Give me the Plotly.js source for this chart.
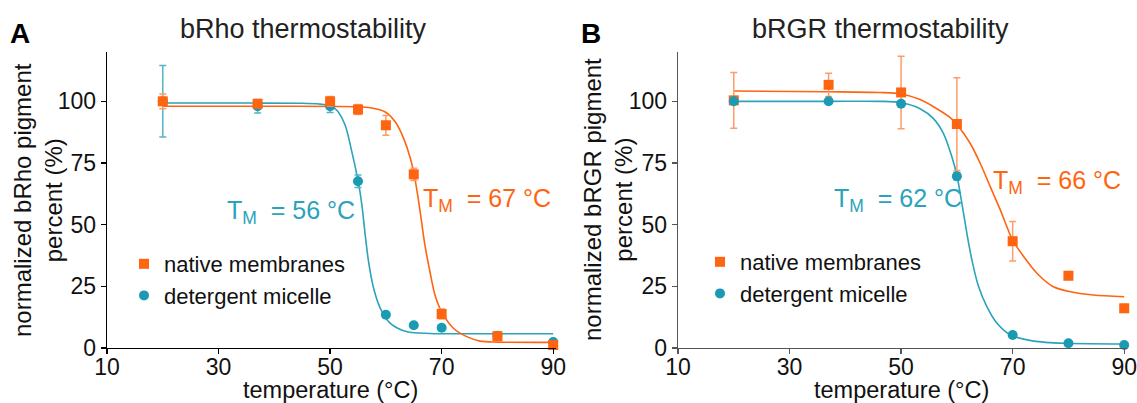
<!DOCTYPE html>
<html>
<head>
<meta charset="utf-8">
<script src="https://cdn.plot.ly/plotly-3.0.1.min.js"></script>
<style>html,body{margin:0;padding:0;background:#fff;}#chart{width:1137px;height:403px;}</style>
</head>
<body>
<div id="chart"></div>
<script>
// ---------- data ----------
const xTicks = [10, 30, 50, 70, 90];
const yTicks = [0, 25, 50, 75, 100];

// Panel A: bRho
const rhoTemp = [20, 37, 50, 55, 60, 65, 70, 80, 90];
const rhoNative = [100, 99, 100, 96.7, 90.3, 70.4, 13.8, 4.8, 1.2];
const rhoNativeErr = [3, 1.5, 2, 2, 4, 2.5, 2, 1, 1];
const rhoMicelle = [100, 98, 98, 67.6, 13.5, 9.2, 8.2, 5, 2.4];
const rhoMicelleErr = [14.5, 2.7, 2.5, 2.5, 0, 0, 0, 0, 0];

// fitted curves (temperature, percent)
const rhoNativeFitT = [20, 40, 55, 57.2, 59.9, 61.7, 63.2, 64.4, 65.2, 65.8, 66.4, 67, 67.9, 68.8, 70, 72.1, 74.5, 76.9, 80, 90];
const rhoNativeFitV = [98, 98, 97.8, 97.4, 95.7, 91.6, 84.9, 76.8, 68.7, 60.6, 51.1, 41.7, 30.9, 21.5, 14.7, 8, 4.6, 2.8, 2.4, 2.3];
const rhoMicelleFitT = [20, 35, 45, 48, 50, 51.2, 52.7, 53.9, 55.1, 55.7, 56.3, 56.9, 57.8, 59, 60.8, 63.8, 67.9, 80, 90];
const rhoMicelleFitV = [99.3, 99.3, 99.2, 98.9, 98.2, 96.4, 90.3, 79.5, 66.7, 57.9, 45.7, 34.9, 24.2, 16.1, 10, 6.6, 5.9, 5.8, 5.8];

// Panel B: bRGR
const rgrTemp = [20, 37, 50, 60, 70, 80, 90];
const rgrNative = [100.4, 106.7, 103.6, 90.8, 43.3, 29.3, 16.1];
const rgrNativeErr = [11.3, 4.7, 14.7, 18.8, 8, 1.5, 1.5];
const rgrMicelle = [100, 100, 99, 69.6, 5.3, 1.9, 1.2];
const rgrMicelleErr = [0.6, 0.6, 0.8, 1.5, 0.5, 0.4, 0.4];

const rgrNativeFitT = [20, 37, 46.2, 49.9, 53.4, 56.4, 58.8, 60.6, 62.4, 64.2, 66, 67.8, 70, 72, 74.4, 77.3, 80.3, 84.5, 90];
const rgrNativeFitV = [104.2, 103.9, 103.6, 103.1, 100.7, 97, 93.4, 88.9, 82.9, 74.8, 65.3, 55.9, 43.7, 37, 30.2, 24.8, 22.8, 21.5, 20.8];
const rgrMicelleFitT = [20, 37, 46.2, 49.9, 53.4, 55.8, 57.6, 59.1, 60, 60.9, 61.8, 62.7, 63.9, 65.4, 67.2, 69.6, 73.8, 79.7, 90];
const rgrMicelleFitV = [100, 100, 100, 99.5, 97, 93, 86.9, 77.5, 70, 58.6, 46.4, 35.6, 24.8, 16.7, 10, 5.3, 2.8, 1.9, 1.6];

const seriesNames = ['native membranes', 'detergent micelle'];
const panelTitles = ['bRho thermostability', 'bRGR thermostability'];
const panelLetters = ['A', 'B'];
const xTitle = 'temperature (°C)';
const yTitles = ['normalized bRho pigment<br>percent (%)', 'normalized bRGR pigment<br>percent (%)'];
const tmLabels = [['T<sub>M</sub>\u00a0 = 67 °C', 'T<sub>M</sub>\u00a0 = 56 °C'], ['T<sub>M</sub>\u00a0 = 66 °C', 'T<sub>M</sub>\u00a0 = 62 °C']];

// ---------- style ----------
const W = 1137, H = 403;
const px = v => v / W;
const py = v => (H - v) / H;
const FONT = 'Liberation Sans, Arial, sans-serif';
const ORANGE = '#ff6410';
const ORANGE_ERR = '#ff9c66';
const TEAL = '#1b9bb3';
const TEAL_ERR = '#55b5c8';
const TEAL_LINE = '#2aa3bb';

function fitTrace(x, y, color, xa, ya) {
  return {x, y, type: 'scatter', mode: 'lines', xaxis: xa, yaxis: ya,
    line: {color, width: 1.6, shape: 'spline', smoothing: 0.8}, showlegend: false, hoverinfo: 'skip'};
}
function dataTrace(x, y, err, name, color, errColor, symbol, xa, ya, leg) {
  return {x, y, type: 'scatter', mode: 'markers', name, xaxis: xa, yaxis: ya, legend: leg,
    cliponaxis: false,
    marker: {color, symbol, size: 10},
    error_y: {type: 'data', array: err, visible: true, color: errColor, thickness: 1.5, width: 3.5}};
}

const traces = [
  fitTrace(rhoMicelleFitT, rhoMicelleFitV, TEAL_LINE, 'x', 'y'),
  fitTrace(rhoNativeFitT, rhoNativeFitV, ORANGE, 'x', 'y'),
  dataTrace(rhoTemp, rhoMicelle, rhoMicelleErr, seriesNames[1], TEAL, TEAL_ERR, 'circle', 'x', 'y', 'legend'),
  dataTrace(rhoTemp, rhoNative, rhoNativeErr, seriesNames[0], ORANGE, ORANGE_ERR, 'square', 'x', 'y', 'legend'),
  fitTrace(rgrNativeFitT, rgrNativeFitV, ORANGE, 'x2', 'y2'),
  fitTrace(rgrMicelleFitT, rgrMicelleFitV, TEAL_LINE, 'x2', 'y2'),
  dataTrace(rgrTemp, rgrNative, rgrNativeErr, seriesNames[0], ORANGE, ORANGE_ERR, 'square', 'x2', 'y2', 'legend2'),
  dataTrace(rgrTemp, rgrMicelle, rgrMicelleErr, seriesNames[1], TEAL, TEAL_ERR, 'circle', 'x2', 'y2', 'legend2')
];

function xAxis(domain, lineColor) {
  return {domain, range: [10, 90.5], tickvals: xTicks, ticktext: xTicks.map(String),
    showgrid: false, zeroline: false, showline: true, linecolor: lineColor, linewidth: 1.3,
    ticks: 'outside', ticklen: 5, tickwidth: 1.3, tickcolor: lineColor, ticklabelstandoff: -7,
    ticklabeloverflow: 'allow',
    tickfont: {family: FONT, size: 23, color: '#111'}, fixedrange: true};
}
function yAxis(domain, anchor, lineColor) {
  return {domain, anchor, range: [0, 120], tickvals: yTicks, ticktext: yTicks.map(String),
    showgrid: false, zeroline: false, showline: true, linecolor: lineColor, linewidth: 1.3,
    ticks: 'outside', ticklen: 5, tickwidth: 1.3, tickcolor: lineColor,
    tickfont: {family: FONT, size: 23, color: '#111'}, fixedrange: true};
}

function note(text, x, y, size, color, extra) {
  return Object.assign({text, x: px(x), y: py(y), xref: 'paper', yref: 'paper', showarrow: false,
    xanchor: 'center', yanchor: 'middle', borderpad: 0, font: {family: FONT, size, color}}, extra || {});
}

const yDom = [py(348), py(52)];
const legendFont = {family: FONT, size: 22, color: '#111'};
const layout = {
  width: W, height: H,
  margin: {l: 0, r: 0, t: 0, b: 0},
  paper_bgcolor: '#fff', plot_bgcolor: '#fff',
  font: {family: FONT, color: '#111'},
  xaxis: xAxis([px(107), px(556)], '#000'),
  yaxis: yAxis(yDom, 'x', '#000'),
  xaxis2: Object.assign(xAxis([px(678), px(1127)], '#555'), {anchor: 'y2'}),
  yaxis2: yAxis(yDom, 'x2', '#555'),
  legend: {x: px(124), y: py(243), xanchor: 'left', yanchor: 'top', bgcolor: 'rgba(0,0,0,0)',
    font: legendFont, traceorder: 'reversed', tracegroupgap: 0},
  legend2: {x: px(700), y: py(241), xanchor: 'left', yanchor: 'top', bgcolor: 'rgba(0,0,0,0)',
    font: legendFont, traceorder: 'normal', tracegroupgap: 0},
  annotations: [
    note(panelTitles[0], 303.5, 29, 27, '#222'),
    note(panelTitles[1], 880, 29, 27, '#222'),
    note('<b>' + panelLetters[0] + '</b>', 20, 33, 28, '#000'),
    note('<b>' + panelLetters[1] + '</b>', 591, 33, 28, '#000'),
    note(xTitle, 330, 390, 23.5, '#111'),
    note(xTitle, 901, 390, 23.5, '#111'),
    note(yTitles[0], 38, 200, 24, '#111', {textangle: -90}),
    note(yTitles[1], 608, 200, 24, '#111', {textangle: -90}),
    note(tmLabels[0][0], 486.5, 200, 25, ORANGE),
    note(tmLabels[0][1], 290.5, 212, 25, TEAL_LINE),
    note(tmLabels[1][0], 1056.5, 182, 25, ORANGE),
    note(tmLabels[1][1], 898, 200, 25, TEAL_LINE)
  ]
};

Plotly.newPlot('chart', traces, layout, {staticPlot: true, displayModeBar: false});
</script>
</body>
</html>
